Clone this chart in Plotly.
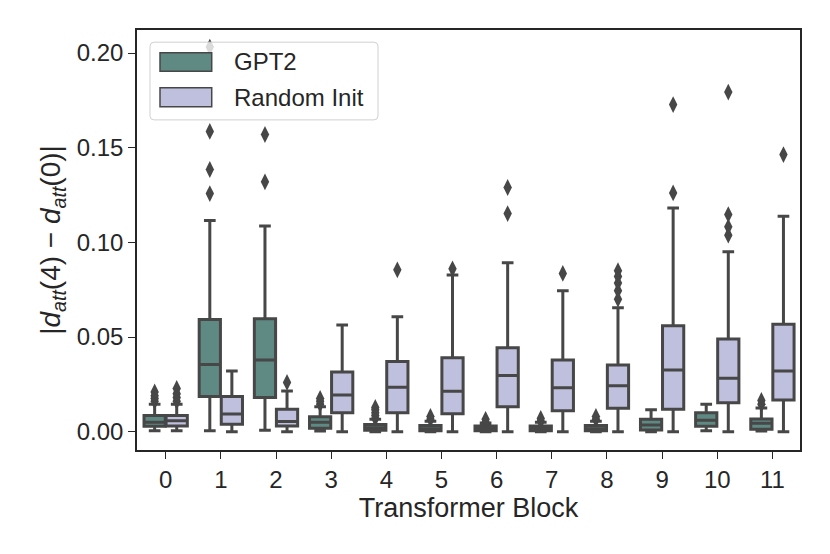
import plotly.graph_objects as go

BLOCKS = list(range(12))
HUES = ["GPT2", "Random Init"]
COLORS = {"GPT2": "#5f8a83", "Random Init": "#bfc0de"}
EDGE = "#474747"

# box statistics per transformer block
GPT2_Q1 = [0.0028, 0.0185, 0.0181, 0.0018, 0.0008, 0.0005, 0.0005, 0.0005, 0.0005, 0.0009, 0.0028, 0.0013]
GPT2_MED = [0.0050, 0.0355, 0.0378, 0.0050, 0.0020, 0.0015, 0.0015, 0.0015, 0.0015, 0.0035, 0.0060, 0.0044]
GPT2_Q3 = [0.0085, 0.0593, 0.0596, 0.0079, 0.0038, 0.0032, 0.0030, 0.0030, 0.0033, 0.0065, 0.0100, 0.0067]
GPT2_LO = [0.0005, 0.0005, 0.0008, 0.0003, 0.0, 0.0, 0.0, 0.0, 0.0, 0.0, 0.0005, 0.0003]
GPT2_HI = [0.0145, 0.1116, 0.1087, 0.0132, 0.0065, 0.0055, 0.0045, 0.0050, 0.0055, 0.0115, 0.0145, 0.0125]
GPT2_OUT = [
    [0.016, 0.0175, 0.019, 0.021],
    [0.1258, 0.1385, 0.1586, 0.2032],
    [0.132, 0.157],
    [0.0145, 0.016, 0.0175],
    [0.007, 0.0085, 0.010, 0.0115, 0.0128],
    [0.0065, 0.008],
    [0.005, 0.0065],
    [0.0055, 0.007],
    [0.0065, 0.008],
    [],
    [],
    [0.0145, 0.0165],
]

RAND_Q1 = [0.0030, 0.0039, 0.0030, 0.0100, 0.0100, 0.0095, 0.0132, 0.0111, 0.0123, 0.0118, 0.0153, 0.0167]
RAND_MED = [0.0058, 0.0093, 0.0053, 0.0194, 0.0234, 0.0213, 0.0296, 0.0232, 0.0243, 0.0326, 0.0282, 0.0320]
RAND_Q3 = [0.0085, 0.0185, 0.0118, 0.0315, 0.0370, 0.0390, 0.0443, 0.0378, 0.0352, 0.0560, 0.0489, 0.0567]
RAND_LO = [0.0005, 0.0, 0.0, 0.0, 0.0, 0.0, 0.0, 0.0, 0.0, 0.0, 0.0, 0.0]
RAND_HI = [0.0145, 0.0320, 0.0215, 0.0563, 0.0607, 0.0827, 0.0892, 0.0744, 0.0654, 0.1182, 0.0950, 0.1138]
RAND_OUT = [
    [0.016, 0.018, 0.020, 0.0228],
    [],
    [0.026],
    [],
    [0.0855],
    [0.086],
    [0.1152, 0.129],
    [0.0836],
    [0.070, 0.0745, 0.0785, 0.082, 0.085],
    [0.1261, 0.1728],
    [0.1038, 0.1082, 0.1147, 0.1794],
    [0.1464],
]

STATS = {
    "GPT2": (GPT2_Q1, GPT2_MED, GPT2_Q3, GPT2_LO, GPT2_HI, GPT2_OUT, -0.2),
    "Random Init": (RAND_Q1, RAND_MED, RAND_Q3, RAND_LO, RAND_HI, RAND_OUT, 0.2),
}

fig = go.Figure()
for hue in HUES:
    q1, med, q3, lo, hi, outs, shift = STATS[hue]
    xs = [b + shift for b in BLOCKS]
    fig.add_trace(go.Box(
        name=hue,
        x=xs,
        q1=q1,
        median=med,
        q3=q3,
        lowerfence=lo,
        upperfence=hi,
        width=0.385,
        whiskerwidth=0.55,
        fillcolor=COLORS[hue],
        line=dict(color=EDGE, width=3),
        boxpoints=False,
        showlegend=False,
    ))
    ox, oy = [], []
    for b, vals in zip(BLOCKS, outs):
        ox += [b + shift] * len(vals)
        oy += vals
    fig.add_trace(go.Scatter(
        x=ox, y=oy, mode="markers", showlegend=False,
        marker=dict(symbol="diamond-tall", size=12, color=EDGE),
    ))

# legend drawn in paper coords (matplotlib style: rounded frame, wide patches)
def rounded_rect(x0, y0, x1, y1, rx, ry):
    return (f"M {x0+rx},{y0} L {x1-rx},{y0} Q {x1},{y0} {x1},{y0+ry} "
            f"L {x1},{y1-ry} Q {x1},{y1} {x1-rx},{y1} L {x0+rx},{y1} "
            f"Q {x0},{y1} {x0},{y1-ry} L {x0},{y0+ry} Q {x0},{y0} {x0+rx},{y0} Z")

shapes = [dict(
    type="path", xref="paper", yref="paper",
    path=rounded_rect(0.0196, 0.786, 0.3635, 0.971, 0.006, 0.0095),
    fillcolor="rgba(255,255,255,0.8)", line=dict(color="#d0d0d0", width=1),
)]
annotations = []
patch_y = {"GPT2": (0.902, 0.946), "Random Init": (0.8174, 0.8626)}
for hue in HUES:
    y0, y1 = patch_y[hue]
    shapes.append(dict(
        type="rect", xref="paper", yref="paper",
        x0=0.0347, x1=0.1127, y0=y0, y1=y1,
        fillcolor=COLORS[hue], line=dict(color=EDGE, width=1.5),
    ))
    annotations.append(dict(
        text=hue, xref="paper", yref="paper", x=0.1433, y=(y0 + y1) / 2,
        xanchor="left", yanchor="middle", showarrow=False,
        font=dict(size=24, color="#262626"),
    ))

axis_common = dict(
    showline=True, mirror=True, linecolor="#262626", linewidth=1.5,
    ticks="outside", ticklen=7, tickwidth=1.3, tickcolor="#262626",
    showgrid=False, zeroline=False,
    tickfont=dict(size=24, color="#262626"),
)

fig.update_layout(
    width=822, height=546,
    margin=dict(l=129, r=30, t=22, b=104),
    plot_bgcolor="white", paper_bgcolor="white",
    font=dict(family="Liberation Sans, Arial, sans-serif", color="#262626"),
    boxmode="overlay",
    showlegend=False,
    shapes=shapes,
    annotations=annotations,
    xaxis=dict(
        range=[-0.52, 11.5],
        tickmode="array", tickvals=BLOCKS, ticktext=[str(b) for b in BLOCKS],
        title=dict(text="Transformer Block", font=dict(size=27), standoff=4),
        **axis_common,
    ),
    yaxis=dict(
        range=[-0.0097, 0.2122],
        tickmode="array", tickvals=[0, 0.05, 0.10, 0.15, 0.20],
        ticktext=["0.00", "0.05", "0.10", "0.15", "0.20"],
        title=dict(
            text="|<i>d</i><sub><i>att</i></sub>(4) − <i>d</i><sub><i>att</i></sub>(0)|",
            font=dict(size=28), standoff=8,
        ),
        **axis_common,
    ),
)

fig.write_html("out.html")
